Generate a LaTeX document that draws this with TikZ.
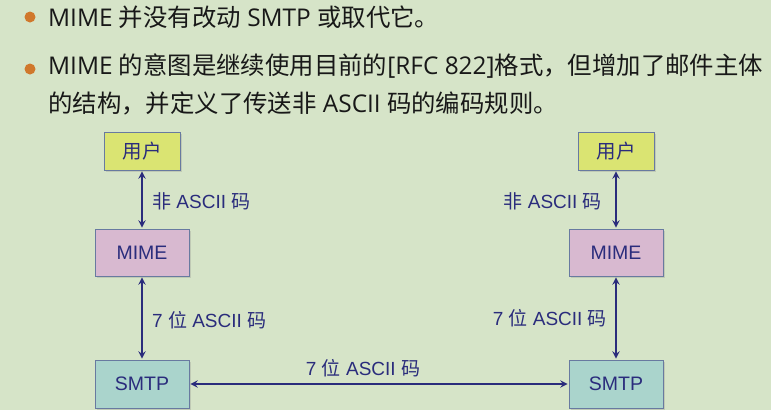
\documentclass[tikz,border=0pt]{standalone}
\usepackage{fontspec}
\setmainfont{Liberation Sans}
\newfontfamily\cjk{Noto Sans CJK SC}
\newfontfamily\bodyfont{Open Sans}
\usepackage{xcolor}
\usetikzlibrary{shadows}

\definecolor{bgcol}{RGB}{214,228,200}
\definecolor{usercol}{RGB}{218,228,114}
\definecolor{mimecol}{RGB}{216,185,208}
\definecolor{smtpcol}{RGB}{170,212,204}
\definecolor{edgecol}{RGB}{104,122,160}
\definecolor{navycol}{RGB}{42,44,124}
\definecolor{bulletcol}{RGB}{208,120,44}
\definecolor{bodycol}{RGB}{24,24,24}

\newcommand{\zh}[1]{{\cjk #1}}

\begin{document}
\begin{tikzpicture}[x=1pt,y=-1pt]
        % Define styles
        \tikzset{
            box/.style={rectangle, draw=edgecol, line width=0.8pt, text=navycol, font=\fontsize{19.5}{22}\selectfont, drop shadow={shadow xshift=2pt, shadow yshift=-2pt, opacity=0.25}},
            user/.style={box, fill=usercol, minimum width=76pt, minimum height=38pt},
            mime/.style={box, fill=mimecol, minimum width=94pt, minimum height=47pt},
            smtp/.style={box, fill=smtpcol, minimum width=94pt, minimum height=48pt},
            lbl/.style={text=navycol, font=\fontsize{19}{22}\selectfont, inner sep=0pt},
            arrow/.style={<->,>=stealth, draw=navycol, line width=2.2pt, shorten <=1pt, shorten >=1pt},
            bullet/.style={circle, fill=bulletcol, minimum size=11pt, inner sep=0pt},
            body/.style={inner sep=0pt, text=bodycol, font=\bodyfont\fontsize{24.4}{38}\selectfont}
        }
        \fill[bgcol] (0,0) rectangle (771,410);
        \useasboundingbox (0,0) rectangle (771,410);

        % Text
        \node[bullet] (bullet_1) at (30,17) {};
        \node[body, anchor=west] (text_1) at (48,17) {MIME \zh{并没有改动} SMTP \zh{或取代它。}};
        \node[bullet] (bullet_2) at (30,69) {};
        \node[body, anchor=north west, align=left] (text_2) at (48,54) {MIME \zh{的意图是继续使用目前的}[RFC 822]\zh{格式，但增加了邮件主体}\\\zh{的结构，并定义了传送非} ASCII \zh{码的编码规则。}};

        % Nodes
        \node[user] (user_node_1) at (142,151) {\zh{用户}};
        \node[mime] (mime_node_1) at (142,252.5) {MIME};
        \node[smtp] (smtp_node_1) at (142,384) {SMTP};
        \node[user] (user_node_2) at (616,151) {\zh{用户}};
        \node[mime] (mime_node_2) at (616,252.5) {MIME};
        \node[smtp] (smtp_node_2) at (616,384) {SMTP};

        % Arrows
        \draw[arrow] (user_node_1) -- (mime_node_1);
        \draw[arrow] (mime_node_1) -- (smtp_node_1);
        \draw[arrow] (user_node_2) -- (mime_node_2);
        \draw[arrow] (mime_node_2) -- (smtp_node_2);
        \draw[arrow] (smtp_node_1) -- (smtp_node_2);

        % Labels
        \node[lbl, anchor=west] (label_1) at (152,201) {\zh{非} ASCII \zh{码}};
        \node[lbl, anchor=west] (label_2) at (152,320) {7 \zh{位} ASCII \zh{码}};
        \node[lbl, anchor=east] (label_3) at (602,201) {\zh{非} ASCII \zh{码}};
        \node[lbl, anchor=east] (label_4) at (607,318) {7 \zh{位} ASCII \zh{码}};
        \node[lbl] (label_5) at (363,368) {7 \zh{位} ASCII \zh{码}};
    \end{tikzpicture}
\end{document}
